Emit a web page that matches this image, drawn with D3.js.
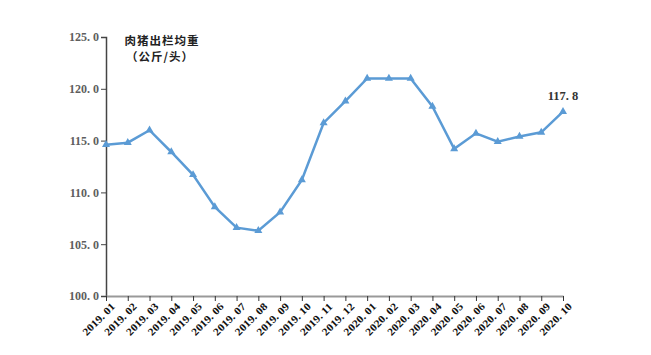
<!DOCTYPE html>
<html>
<head>
<meta charset="utf-8">
<script src="https://cdn.jsdelivr.net/npm/d3@7"></script>
<style>
    body { margin: 0; background: #fff; }
    svg { display: block; }
</style>
</head>
<body>
<svg id="chart" width="651" height="355"></svg>
<script>
    // months and average slaughter weight (kg/head)
    var months = ["2019.01", "2019.02", "2019.03", "2019.04", "2019.05", "2019.06", "2019.07",
        "2019.08", "2019.09", "2019.10", "2019.11", "2019.12", "2020.01", "2020.02", "2020.03",
        "2020.04", "2020.05", "2020.06", "2020.07", "2020.08", "2020.09", "2020.10"];
    var weights = [114.6, 114.8, 116.0, 113.9, 111.7, 108.6, 106.6, 106.3, 108.1, 111.2, 116.7,
        118.8, 121.0, 121.0, 121.0, 118.3, 114.2, 115.7, 114.9, 115.4, 115.8, 117.8];
    var yTicks = [100, 105, 110, 115, 120, 125];

    var svg = d3.select("#chart");
    var plotLeft = 106, plotRight = 563, plotTop = 37, plotBottom = 296;

    var x = d3.scalePoint().domain(months).range([plotLeft, plotRight]);
    var y = d3.scaleLinear().domain([100, 125]).range([plotBottom, plotTop]);

    var fmt = function (v) { return v.toFixed(1).replace(".", ". "); };
    var serif = "'Liberation Serif', 'DejaVu Serif', serif";

    // y axis
    var yAxis = svg.append("g")
        .attr("transform", "translate(" + plotLeft + ",0)")
        .call(d3.axisLeft(y).tickValues(yTicks).tickSize(5).tickFormat(fmt));
    yAxis.select(".domain").attr("stroke", "#444").attr("stroke-width", 1.5);
    yAxis.selectAll(".tick line").attr("stroke", "#444");
    yAxis.selectAll(".tick text")
        .attr("x", -7)
        .attr("fill", "#5e5e5e")
        .style("font-family", serif)
        .style("font-weight", "bold")
        .style("font-size", "12px");

    // x axis
    var xAxis = svg.append("g")
        .attr("transform", "translate(0," + plotBottom + ")")
        .call(d3.axisBottom(x).tickSize(5).tickSizeOuter(0).tickFormat(function (d) {
            return d.replace(".", ". ");
        }));
    xAxis.select(".domain").attr("stroke", "#999").attr("stroke-width", 2);
    xAxis.selectAll(".tick line").attr("stroke", "#333");
    xAxis.selectAll(".tick text")
        .attr("transform", "translate(4,6) rotate(-45)")
        .attr("text-anchor", "end")
        .attr("x", 0)
        .attr("y", 0)
        .attr("dy", "0.7em")
        .attr("fill", "#111")
        .style("font-family", serif)
        .style("font-weight", "bold")
        .style("font-size", "10.5px")
        .attr("textLength", 41)
        .attr("lengthAdjust", "spacingAndGlyphs");

    // line
    var line = d3.line()
        .x(function (d, i) { return x(months[i]); })
        .y(function (d) { return y(d); });

    svg.append("path")
        .datum(weights)
        .attr("fill", "none")
        .attr("stroke", "#5b9bd5")
        .attr("stroke-width", 2.5)
        .attr("d", line);

    svg.append("g").selectAll("path")
        .data(weights)
        .join("path")
        .attr("d", d3.symbol().type(d3.symbolTriangle).size(28))
        .attr("transform", function (d, i) {
            return "translate(" + x(months[i]) + "," + y(d) + ")";
        })
        .attr("fill", "#5b9bd5");

    // last value label
    var last = weights.length - 1;
    svg.append("text")
        .attr("x", x(months[last]))
        .attr("y", y(weights[last]) - 12)
        .attr("text-anchor", "middle")
        .attr("fill", "#333")
        .style("font-family", serif)
        .style("font-weight", "bold")
        .style("font-size", "12.5px")
        .text(fmt(weights[last]));

    // title
    var title = svg.append("g")
        .style("font-family", "'Noto Sans CJK SC', sans-serif")
        .style("font-weight", "bold")
        .style("font-size", "11.5px")
        .attr("fill", "#222");
    title.append("text").attr("x", 162).attr("y", 45).attr("text-anchor", "middle")
        .attr("letter-spacing", "1px").text("肉猪出栏均重");
    title.append("text").attr("x", 160).attr("y", 61).attr("text-anchor", "middle")
        .attr("letter-spacing", "1px").text("（公斤/头）");
</script>
</body>
</html>
